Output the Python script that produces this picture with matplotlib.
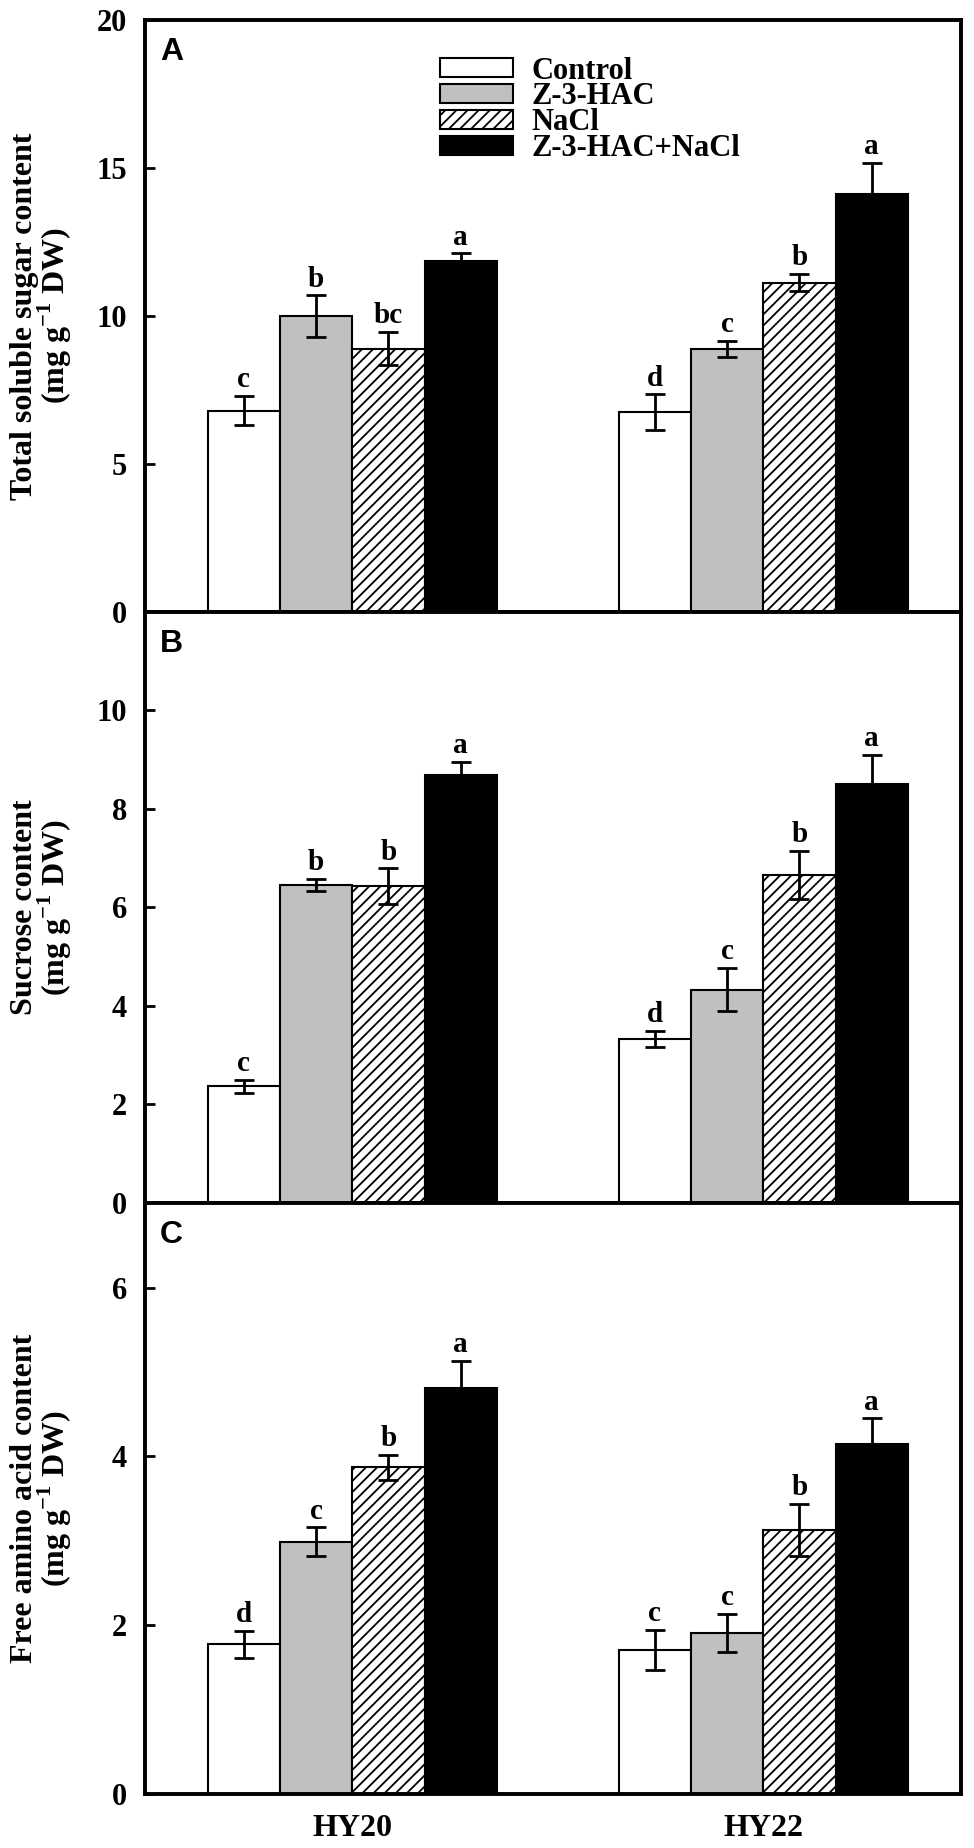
import matplotlib
matplotlib.use("Agg")
import matplotlib.pyplot as plt
from matplotlib.patches import Patch
import numpy as np

plt.rcParams['font.family'] = ['Liberation Serif', 'DejaVu Serif']
plt.rcParams['font.weight'] = 'bold'
plt.rcParams['mathtext.fontset'] = 'custom'
plt.rcParams['mathtext.rm'] = 'Liberation Serif:bold'
plt.rcParams['mathtext.bf'] = 'Liberation Serif:bold'
plt.rcParams['hatch.linewidth'] = 1.3

# data
cultivars = ["HY20", "HY22"]
treatments = ["Control", "Z-3-HAC", "NaCl", "Z-3-HAC+NaCl"]

sugar_mean = [[6.8, 10.0, 8.9, 11.85], [6.75, 8.9, 11.13, 14.12]]
sugar_err = [[0.5, 0.7, 0.57, 0.27], [0.6, 0.27, 0.3, 1.05]]
sugar_letters = [["c", "b", "bc", "a"], ["d", "c", "b", "a"]]

sucrose_mean = [[2.37, 6.46, 6.43, 8.69], [3.33, 4.33, 6.65, 8.5]]
sucrose_err = [[0.13, 0.12, 0.36, 0.26], [0.16, 0.44, 0.49, 0.6]]
sucrose_letters = [["c", "b", "b", "a"], ["d", "c", "b", "a"]]

amino_mean = [[1.78, 2.99, 3.87, 4.81], [1.71, 1.91, 3.13, 4.15]]
amino_err = [[0.16, 0.17, 0.15, 0.32], [0.24, 0.23, 0.31, 0.3]]
amino_letters = [["d", "c", "b", "a"], ["c", "c", "b", "a"]]

panels = [
    ("A", "Total soluble sugar content\n(mg g$^{-1}$ DW)", sugar_mean, sugar_err, sugar_letters, 20, [0, 5, 10, 15, 20]),
    ("B", "Sucrose content\n(mg g$^{-1}$ DW)", sucrose_mean, sucrose_err, sucrose_letters, 12, [0, 2, 4, 6, 8, 10]),
    ("C", "Free amino acid content\n(mg g$^{-1}$ DW)", amino_mean, amino_err, amino_letters, 7, [0, 2, 4, 6]),
]

colors = ["white", "#c0c0c0", "white", "black"]
hatches = [None, None, "///", None]
width = 0.176

fig = plt.figure(figsize=(9.74, 18.48), dpi=100)
left, right = 0.149, 0.987
bottoms = [0.669, 0.349, 0.029]
h = 0.32

x = np.arange(len(cultivars))
for k, (tag, ylab, means, errs, letters, ymax, yticks) in enumerate(panels):
    ax = fig.add_axes([left, bottoms[k], right - left, h])
    means = np.array(means)
    errs = np.array(errs)
    for i, t in enumerate(treatments):
        xi = x + (i - 1.5) * width
        ax.bar(xi, means[:, i], width, color=colors[i], edgecolor="black",
               linewidth=1.5, hatch=hatches[i], label=t, zorder=2)
        ax.errorbar(xi, means[:, i], yerr=errs[:, i], fmt="none", ecolor="black",
                    elinewidth=2, capsize=7, capthick=2, zorder=3)
        for g in range(len(cultivars)):
            ax.annotate(letters[g][i], (xi[g], means[g, i] + errs[g, i]),
                        xytext=(0, 2), textcoords="offset points",
                        ha="center", va="bottom", fontsize=21, fontweight="bold")
    ax.set_xlim(-0.504, 1.482)
    ax.set_ylim(0, ymax)
    ax.set_yticks(yticks)
    ax.tick_params(axis="y", direction="in", length=7, width=2, pad=13, labelsize=22)
    ax.tick_params(axis="x", length=0, pad=14, labelsize=23)
    ax.set_xticks(x)
    if k < 2:
        ax.set_xticklabels([])
    else:
        ax.set_xticklabels(cultivars)
    for sp in ax.spines.values():
        sp.set_linewidth(2.8)
    ax.text(-0.126, 0.5, ylab, transform=ax.transAxes, rotation=90,
            ha="center", va="center", fontsize=23, fontweight="bold",
            multialignment="center", linespacing=0.9)
    ax.text(0.018, 0.971, tag, transform=ax.transAxes, ha="left", va="top",
            fontsize=23, fontweight="bold", family="Liberation Sans")
    if k == 0:
        handles = [Patch(facecolor=colors[i], edgecolor="black", hatch=hatches[i],
                         linewidth=1.5) for i in range(4)]
        ax.legend(handles, treatments, loc="upper left", bbox_to_anchor=(0.335, 0.975),
                  frameon=False, fontsize=22, handlelength=2.4, handleheight=0.6,
                  handletextpad=0.6, labelspacing=-0.1, borderpad=0.2)

fig.savefig("out.png", dpi=100)
